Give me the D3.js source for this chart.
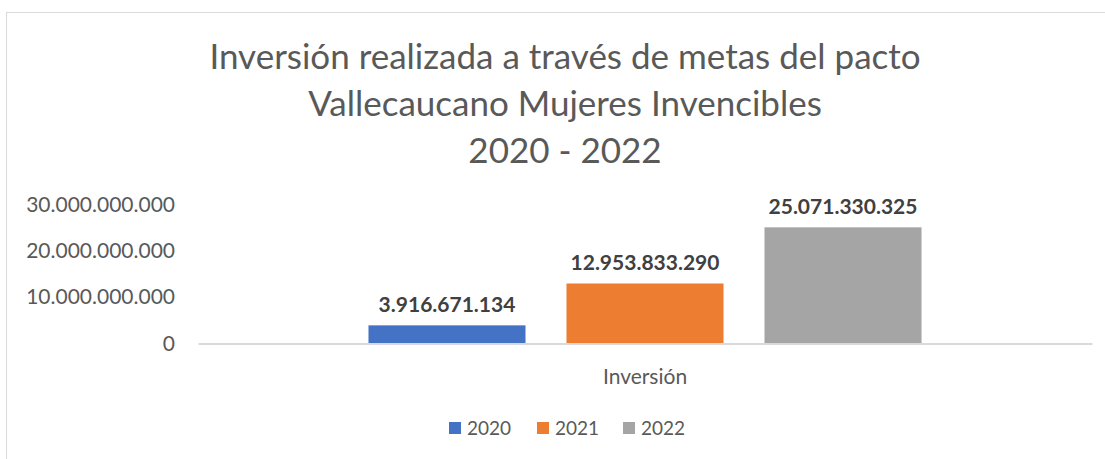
<!DOCTYPE html>
<html>
<head>
<meta charset="utf-8">
<script src="https://cdn.jsdelivr.net/npm/d3@7"></script>
<style>
  body { margin:0; background:#fff; }
  svg { display:block; font-family: Lato, "Open Sans", sans-serif; }
</style>
</head>
<body>
<div id="chart"></div>
<script>
var titleLines = ["Inversión realizada a través de metas del pacto", "Vallecaucano Mujeres Invencibles", "2020 - 2022"]
var category = ["Inversión"]
var years = ["2020", "2021", "2022"]
var values = [3916671134, 12953833290, 25071330325]
var colors = ["#4472c4", "#ed7d31", "#a5a5a5"]
var yTicks = [0, 10000000000, 20000000000, 30000000000]

var width = 1105, height = 459
var loc = d3.formatLocale({decimal: ",", thousands: ".", grouping: [3], currency: ["$", ""]})
var fmt = loc.format(",d")

var svg = d3.select("#chart").append("svg").attr("width", width).attr("height", height)

// chart area border (right and bottom fall outside the picture)
svg.append("rect")
  .attr("x", 6.5).attr("y", 12.5).attr("width", 1110).attr("height", 460)
  .attr("fill", "#fff").attr("stroke", "#d9d9d9").attr("stroke-width", 1)

// title
svg.append("g").selectAll("text")
  .data(titleLines)
  .enter().append("text")
    .attr("x", 565)
    .attr("y", function(d, i) { return 69 + i * 47 })
    .attr("text-anchor", "middle")
    .attr("fill", "#595959")
    .style("font-size", "35px")
    .text(function(d) { return d })

var x0 = d3.scaleBand().domain(category).range([198, 1092])
var x1 = d3.scaleBand().domain(years).range([0, x0.bandwidth()]).paddingInner(0.207).paddingOuter(0.861)
var y = d3.scaleLinear().domain([0, 30000000000]).range([343.5, 204.5])

// y tick labels (no gridlines)
var yAxis = d3.axisLeft(y).tickValues(yTicks).tickFormat(fmt).tickSize(0).tickPadding(0)
var yg = svg.append("g").attr("transform", "translate(175,0)").call(yAxis)
yg.select(".domain").remove()
yg.selectAll("text").attr("fill", "#595959").style("font-size", "21px").style("font-family", "Lato, sans-serif")

// bars
var g = svg.append("g").attr("transform", "translate(" + x0("Inversión") + ",0)")
g.selectAll("rect")
  .data(years)
  .enter().append("rect")
    .attr("x", function(d) { return x1(d) })
    .attr("y", function(d, i) { return y(values[i]) })
    .attr("width", x1.bandwidth())
    .attr("height", function(d, i) { return y(0) - y(values[i]) })
    .attr("fill", function(d, i) { return colors[i] })

// data labels
g.selectAll("text.lbl")
  .data(years)
  .enter().append("text")
    .attr("class", "lbl")
    .attr("x", function(d) { return x1(d) + x1.bandwidth() / 2 })
    .attr("y", function(d, i) { return y(values[i]) - 13 })
    .attr("text-anchor", "middle")
    .attr("fill", "#404040")
    .style("font-size", "21px")
    .style("font-weight", "bold")
    .text(function(d, i) { return fmt(values[i]) })

// x axis
var xAxis = d3.axisBottom(x0).tickSize(0).tickPadding(26)
var xg = svg.append("g").attr("transform", "translate(0," + y(0) + ")").call(xAxis)
xg.select(".domain").attr("stroke", "#d9d9d9").attr("stroke-width", 2)
xg.selectAll("text").attr("fill", "#595959").style("font-size", "21px").style("font-family", "Lato, sans-serif")

// legend
var legendX = [449, 537, 623]
var lg = svg.append("g").selectAll("g")
  .data(years)
  .enter().append("g")
    .attr("transform", function(d, i) { return "translate(" + legendX[i] + ",422)" })
lg.append("rect").attr("width", 12).attr("height", 12).attr("fill", function(d, i) { return colors[i] })
lg.append("text")
  .attr("x", 18).attr("y", 13)
  .attr("fill", "#595959")
  .style("font-size", "19px")
  .text(function(d) { return d })
</script>
</body>
</html>
